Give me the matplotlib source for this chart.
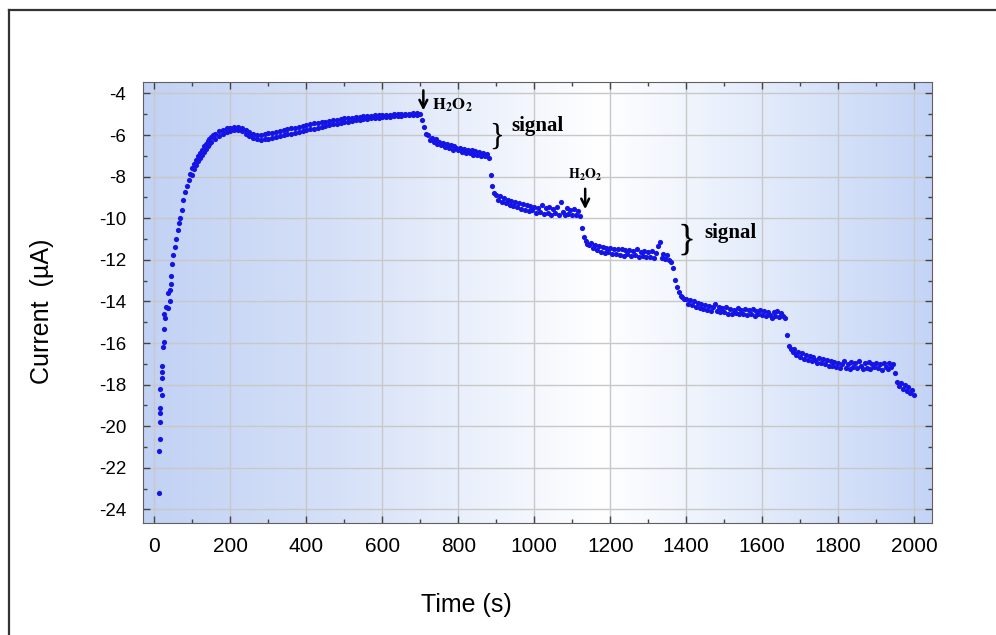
import numpy as np
import matplotlib
matplotlib.use("Agg")
import matplotlib.pyplot as plt
from matplotlib import rcParams
from matplotlib.colors import LinearSegmentedColormap
from matplotlib.lines import Line2D
from matplotlib.ticker import MultipleLocator

rcParams["font.family"] = ["Liberation Sans", "DejaVu Sans"]
rcParams["mathtext.fontset"] = "stix"
rcParams["axes.unicode_minus"] = False

# ---- data ----
# start-up transient (sparse points)
t_start = [11, 11, 14, 14, 16, 16, 19, 16, 20, 21, 19, 22, 24, 24, 28, 25.5, 31, 37, 41, 35,
           41, 45, 44, 47, 50, 54, 57, 61, 65, 67, 72]
i_start = [-23.2, -21.2, -20.6, -19.8, -19.35, -19.1, -18.5, -18.2, -17.7, -17.4, -17.1, -16.2,
           -15.95, -15.3, -14.8, -14.6, -14.26, -14.3, -14.0, -13.6, -13.46, -13.14, -12.8,
           -12.2, -11.77, -11.4, -11.0, -10.57, -10.25, -10.0, -9.6]

# rising part, upper branch
t_up = [75, 80, 85, 90, 95, 100, 105, 110, 115, 120, 125, 130, 135, 140, 145, 150, 155, 160,
        170, 180, 190, 200, 210, 220, 230, 240, 250, 260, 270, 280, 290, 300, 310, 320, 330,
        340, 350, 360, 370, 380, 390, 400, 410, 420, 430, 440, 450, 460, 470, 480, 490, 500,
        510, 520, 530, 540, 550, 560, 570, 580, 590, 600, 610, 620, 630, 640, 650, 660, 670,
        680, 690]
i_up = [-9.1, -8.75, -8.45, -8.15, -7.85, -7.6, -7.4, -7.2, -7.02, -6.85, -6.7, -6.55, -6.42,
        -6.3, -6.2, -6.1, -6.0, -5.93, -5.82, -5.74, -5.68, -5.64, -5.61, -5.6, -5.66, -5.76,
        -5.86, -5.95, -6.0, -6.0, -5.96, -5.92, -5.88, -5.84, -5.8, -5.76, -5.72, -5.68, -5.64,
        -5.6, -5.56, -5.52, -5.48, -5.44, -5.41, -5.38, -5.35, -5.32, -5.29, -5.26, -5.23,
        -5.2, -5.18, -5.16, -5.14, -5.12, -5.1, -5.08, -5.07, -5.06, -5.05, -5.04, -5.03,
        -5.02, -5.01, -5.0, -4.99, -4.98, -4.97, -4.96, -4.96]

# rising part, lower branch
t_low = [100, 105, 110, 115, 120, 125, 130, 135, 140, 145, 150, 160, 170, 180, 190, 200, 210,
         220, 230, 240, 250, 260, 270, 280, 290, 300, 310, 320, 330, 340, 350, 360, 370, 380,
         390, 400, 410, 420, 430, 440, 450, 460, 470, 480, 490, 500, 510, 520, 530, 540, 550,
         560, 570, 580, 590, 600, 610, 620, 630, 640, 650, 660, 670, 680, 690]
i_low = [-7.9, -7.65, -7.45, -7.27, -7.1, -6.95, -6.8, -6.68, -6.55, -6.45, -6.35, -6.18, -6.05,
         -5.95, -5.86, -5.8, -5.76, -5.75, -5.82, -5.93, -6.05, -6.14, -6.2, -6.22, -6.2,
         -6.17, -6.13, -6.09, -6.05, -6.01, -5.97, -5.93, -5.89, -5.85, -5.81, -5.77, -5.73,
         -5.69, -5.65, -5.61, -5.57, -5.53, -5.49, -5.46, -5.43, -5.39, -5.36, -5.33, -5.3,
         -5.27, -5.25, -5.22, -5.2, -5.18, -5.16, -5.14, -5.12, -5.11, -5.09, -5.08, -5.07,
         -5.06, -5.05, -5.04, -5.03]

# step response after H2O2 additions, one point every 5 s from 700 s to 2000 s
t_steps = np.arange(700, 2001, 5)
i_steps = [
    -5.00, -5.30, -5.62, -5.95, -6.00, -6.22, -6.12, -6.35, -6.20, -6.42,
    -6.32, -6.50, -6.36, -6.58, -6.42, -6.62, -6.48, -6.70, -6.52, -6.62,
    -6.74, -6.60, -6.80, -6.66, -6.85, -6.70, -6.88, -6.72, -6.95, -6.78,
    -6.98, -6.82, -7.02, -6.86, -7.00, -6.90, -7.08, -7.90, -8.45, -8.80,
    -8.90, -9.12, -8.95, -9.20, -9.02, -9.28, -9.10, -9.35, -9.15, -9.42,
    -9.22, -9.48, -9.28, -9.55, -9.32, -9.60, -9.38, -9.66, -9.42, -9.62,
    -9.45, -9.75, -9.50, -9.68, -9.36, -9.80, -9.52, -9.74, -9.48, -9.82,
    -9.55, -9.76, -9.45, -9.82, -9.20, -9.70, -9.85, -9.50, -9.78, -9.58,
    -9.82, -9.55, -9.85, -9.65, -9.90, -10.45, -10.90, -11.10, -11.22, -11.30,
    -11.20, -11.45, -11.28, -11.55, -11.35, -11.60, -11.40, -11.65, -11.42, -11.60,
    -11.45, -11.70, -11.48, -11.72, -11.50, -11.76, -11.48, -11.80, -11.55, -11.74,
    -11.52, -11.82, -11.58, -11.78, -11.50, -11.85, -11.62, -11.80, -11.56, -11.88,
    -11.62, -11.84, -11.58, -11.92, -11.68, -11.35, -11.15, -11.90, -11.70, -11.98,
    -11.75, -12.00, -12.10, -12.40, -12.95, -13.30, -13.55, -13.72, -13.80, -13.88,
    -13.90, -14.10, -13.95, -14.18, -14.00, -14.25, -14.05, -14.30, -14.12, -14.36,
    -14.15, -14.40, -14.20, -14.46, -14.25, -14.10, -14.48, -14.28, -14.52, -14.32,
    -14.50, -14.28, -14.58, -14.35, -14.60, -14.40, -14.55, -14.32, -14.62, -14.42,
    -14.58, -14.38, -14.65, -14.42, -14.60, -14.35, -14.68, -14.48, -14.62, -14.42,
    -14.66, -14.48, -14.72, -14.52, -14.64, -14.78, -14.50, -14.70, -14.48, -14.75,
    -14.55, -14.72, -14.80, -15.60, -16.15, -16.28, -16.45, -16.30, -16.58, -16.42,
    -16.68, -16.48, -16.75, -16.55, -16.80, -16.60, -16.88, -16.65, -16.82, -16.95,
    -16.70, -16.95, -16.78, -17.02, -16.82, -17.08, -16.85, -17.12, -16.92, -17.15,
    -16.95, -17.18, -17.00, -16.85, -17.22, -17.02, -17.25, -16.92, -17.15, -16.98,
    -17.20, -16.88, -17.12, -17.26, -16.98, -17.18, -16.90, -17.24, -17.02, -17.16,
    -16.94, -17.20, -17.02, -17.28, -16.96, -17.16, -17.25, -16.98, -17.14, -17.02,
    -17.45, -17.85, -18.05, -17.90, -18.20, -18.00, -18.30, -18.10, -18.40, -18.25,
    -18.50,
]

x_ticks = [0, 200, 400, 600, 800, 1000, 1200, 1400, 1600, 1800, 2000]
y_ticks = [-4, -6, -8, -10, -12, -14, -16, -18, -20, -22, -24]

fig = plt.figure(figsize=(9.96, 6.35), dpi=100)
ax = fig.add_axes([143/996, 1 - 523/635, 789/996, 441/635])

# background gradient: blue at the sides, white in the middle
bg = LinearSegmentedColormap.from_list(
    "bg", [(0.0, "#c2d2f4"), (0.25, "#d6e1f8"), (0.58, "#ffffff"), (0.78, "#e4ecfb"), (1.0, "#c4d4f6")])
ax.imshow(np.linspace(0, 1, 300)[None, :], aspect="auto", cmap=bg, extent=[0, 1, 0, 1],
          transform=ax.transAxes, zorder=0)

dot = dict(s=14, color="#1414e6", linewidths=0, zorder=3)
ax.scatter(t_start, i_start, **dot)
ax.scatter(t_up, i_up, **dot)
ax.scatter(t_low, i_low, **dot)
ax.scatter(t_steps, i_steps, **dot)

ax.set_xlim(-30, 2047)
ax.set_ylim(-24.65, -3.45)
ax.set_xticks(x_ticks)
ax.set_yticks(y_ticks)
ax.xaxis.set_minor_locator(MultipleLocator(100))
ax.yaxis.set_minor_locator(MultipleLocator(1))
ax.tick_params(which="both", direction="in", top=True, right=True, color="#444444")
ax.tick_params(which="major", length=5, width=1)
ax.tick_params(which="minor", length=3, width=1)
ax.tick_params(axis="x", labelsize=15, pad=10)
ax.tick_params(axis="y", labelsize=13.5, pad=12)
ax.grid(True, which="major", color="#c8c8c8", linewidth=1, zorder=1)
ax.set_axisbelow(True)
for s in ax.spines.values():
    s.set_color("#606060")

ax.set_xlabel("Time (s)", fontsize=18)
ax.set_ylabel("Current  (µA)", fontsize=18)
ax.xaxis.set_label_coords(0.41, -0.158)
ax.yaxis.set_label_coords(-0.113, 0.48)

# annotations
ann = dict(fontsize=12, color="black", zorder=5)
ax.annotate("", xy=(708, -4.95), xytext=(708, -3.72),
            arrowprops=dict(arrowstyle="->", lw=1.8, color="black", mutation_scale=14))
ax.text(732, -4.55, r"$\mathbf{H_2O_2}$", ha="left", va="center", **ann)
ax.annotate("", xy=(1134, -9.7), xytext=(1134, -8.45),
            arrowprops=dict(arrowstyle="->", lw=1.8, color="black", mutation_scale=14))
ax.text(1134, -7.9, r"$\mathbf{H_2O_2}$", ha="center", va="center", fontsize=10)

serif = ["Liberation Serif", "DejaVu Serif"]
ax.text(900, -6.1, "}", ha="center", va="center", fontsize=22, family=serif)
ax.text(940, -5.55, "signal", ha="left", va="center", fontsize=15, fontweight="bold", family=serif)
ax.text(1400, -11.05, "}", ha="center", va="center", fontsize=27, family=serif)
ax.text(1448, -10.7, "signal", ha="left", va="center", fontsize=15, fontweight="bold", family=serif)

# outer frame (only left and top edges are inside the image)
fig.add_artist(Line2D([9/996, 9/996], [0, 1 - 10/635], transform=fig.transFigure, color="#333333", lw=1.6))
fig.add_artist(Line2D([9/996, 1], [1 - 10/635, 1 - 10/635], transform=fig.transFigure, color="#333333", lw=1.6))

plt.savefig("out.png", dpi=100)
